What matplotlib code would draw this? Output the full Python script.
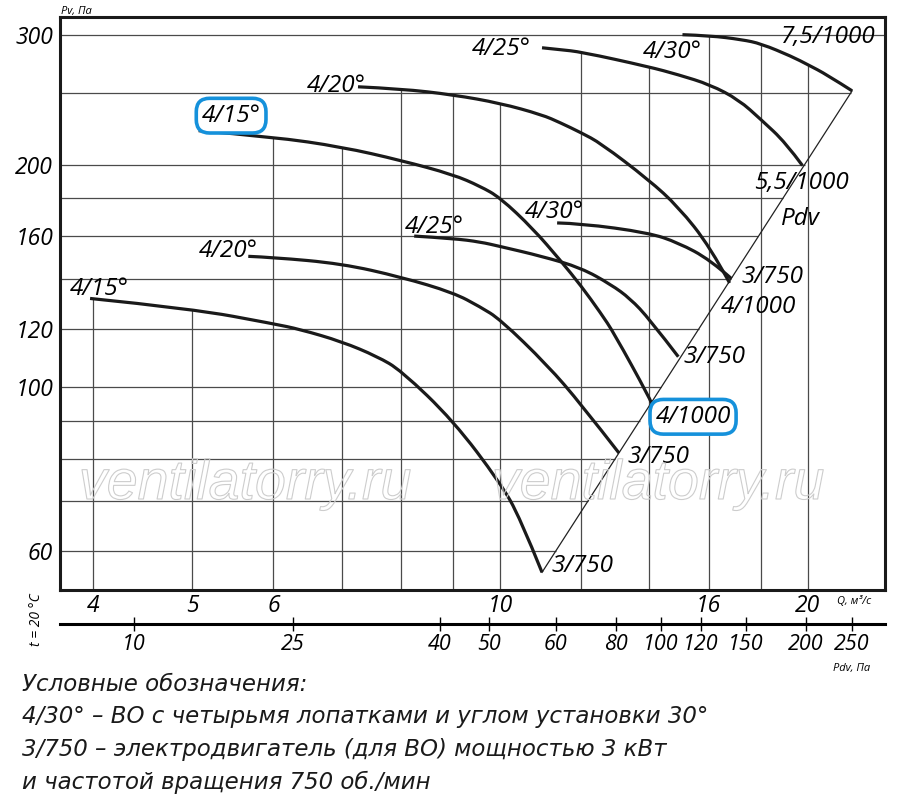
import numpy as np
import matplotlib
matplotlib.use('Agg')
import matplotlib.pyplot as plt
from matplotlib import patheffects
from matplotlib.path import Path
from matplotlib.patches import PathPatch
from matplotlib.ticker import NullLocator

plt.rcParams['font.family'] = ['Open Sans', 'DejaVu Sans']

# Q, m3/s  vs  Pv, Pa
# lower family, motor 3/750
q_15_750 = [3.97, 5.0, 6.0, 6.37, 7.0, 7.58, 8.0, 9.0, 10.0, 10.46, 10.99]
p_15_750 = [131.8, 127.6, 121.8, 119.7, 115.2, 110.0, 105.3, 90.0, 74.2, 66.5, 56.1]
q_20_750 = [5.67, 6.0, 7.0, 8.0, 9.0, 9.56, 10.0, 11.12, 12.0, 13.07]
p_20_750 = [150.3, 149.8, 146.9, 140.9, 134.2, 128.4, 123.5, 107.1, 94.8, 81.4]
q_25_750 = [8.24, 9.0, 9.56, 10.0, 10.99, 12.0, 12.84, 13.40, 14.0, 14.94]
p_25_750 = [160.1, 158.9, 157.2, 155.0, 150.3, 145.0, 137.6, 131.8, 123.6, 109.9]
q_30_750 = [11.37, 12.0, 13.97, 14.94, 16.05, 16.84]
p_30_750 = [166.8, 166.5, 161.8, 156.8, 148.7, 140.2]
# upper family
q_15_1000 = [5.07, 6.0, 7.0, 8.0, 9.0, 9.56, 10.0, 10.77, 11.45, 12.0, 12.54, 12.92, 14.0, 14.06]
p_15_1000 = [222.4, 218.1, 211.4, 202.7, 193.9, 187.0, 180.5, 163.8, 148.5, 137.1, 126.0, 118.4, 96.7, 95.2]
q_20_1000 = [7.26, 8.0, 9.0, 10.0, 10.99, 11.45, 12.0, 12.54, 13.97, 14.94, 16.05, 16.77]
p_20_1000 = [255.0, 253.4, 248.7, 242.3, 233.7, 228.0, 221.0, 213.9, 190.9, 175.4, 154.8, 138.3]
q_25_5500 = [10.99, 11.45, 12.0, 13.97, 14.94, 16.05, 17.12, 18.0, 19.03, 19.76]
p_25_5500 = [288.0, 286.3, 284.3, 271.5, 264.8, 256.7, 244.9, 230.2, 214.2, 199.5]
q_30_7500 = [15.08, 16.05, 17.24, 18.0, 19.30, 20.0, 20.87, 22.1]
p_30_7500 = [300.0, 299.1, 295.4, 291.7, 280.2, 273.2, 264.9, 251.8]

# dynamic pressure line
q_pdv = [10.99, 22.1]
p_pdv = [56.1, 251.8]

grid_q = [4, 5, 6, 7, 8, 9, 10, 12, 14, 16, 18, 20]
grid_p = [60, 70, 80, 90, 100, 120, 140, 160, 180, 200, 250, 300]
q_ticks = [4, 5, 6, 10, 16, 20]
p_ticks = [60, 100, 120, 160, 200, 300]
pdv_labels = ['10', '25', '40', '50', '60', '80', '100', '120', '150', '200', '250']
pdv_tick_q = [4.38, 6.27, 8.73, 9.75, 11.34, 12.98, 14.37, 15.72, 17.39, 19.91, 22.08]

Q_MIN, Q_MAX = 3.71, 23.8
P_MIN, P_MAX = 53.1, 317

BLUE = '#1591db'
INK = '#1a1a1a'
LBL = 17.5

# curve, start label, start offset(px), end label, end offset(px), boxed start, boxed end
curves = [
    (q_15_750, p_15_750, '4/15°', (-20, 3), '3/750', (9, 0), False, False),
    (q_20_750, p_20_750, '4/20°', (-49, -1), '3/750', (9, -10), False, False),
    (q_25_750, p_25_750, '4/25°', (-9, 3), '3/750', (5, -6), False, False),
    (q_30_750, p_30_750, '4/30°', (-32, 5), '3/750', (10, -4), False, False),
    (q_15_1000, p_15_1000, '4/15°', (3, 9), '4/1000', (4, -20), True, True),
    (q_20_1000, p_20_1000, '4/20°', (-51, -5), '4/1000', (-9, -30), False, False),
    (q_25_5500, p_25_5500, '4/25°', (-70, -7), '5,5/1000', (-48, -23), False, False),
    (q_30_7500, p_30_7500, '4/30°', (-40, -23), '7,5/1000', (-71, 48), False, False),
]


def smooth_path(q, p):
    # quadratic pieces through the log-space midpoints, so the curve has no corners
    lq, lp = np.log(q), np.log(p)
    verts = [(q[0], p[0])]
    codes = [Path.MOVETO]
    for i in range(1, len(q) - 1):
        mid = (np.exp((lq[i] + lq[i + 1]) / 2), np.exp((lp[i] + lp[i + 1]) / 2))
        verts += [(q[i], p[i]), mid]
        codes += [Path.CURVE3, Path.CURVE3]
    verts[-1] = (q[-1], p[-1])
    return Path(verts, codes)


def top_of(q):
    tops = [np.exp(np.interp(np.log(q), np.log(cq), np.log(cp)))
            for cq, cp, *_ in curves if cq[0] <= q <= cq[-1]]
    return max(tops)


def pdv_at(p):
    if p > p_pdv[-1]:
        return Q_MAX
    return np.exp(np.interp(np.log(p), np.log(p_pdv), np.log(q_pdv)))


fig = plt.figure(figsize=(9, 8.07), dpi=100)
ax = fig.add_axes([60 / 900, 1 - 590 / 807, 825 / 900, 573 / 807])
ax.set_xscale('log')
ax.set_yscale('log')
ax.set_xlim(Q_MIN, Q_MAX)
ax.set_ylim(P_MIN, P_MAX)

# grid only under the curves and left of the Pdv line
for q in grid_q:
    ax.vlines(q, P_MIN, top_of(q), color='#4a4a4a', lw=0.9, zorder=1)
for p in grid_p:
    ax.hlines(p, Q_MIN, pdv_at(p), color='#4a4a4a', lw=0.9, zorder=1)

ax.plot(q_pdv, p_pdv, color='#222222', lw=0.9, zorder=2)

box = dict(boxstyle='round,pad=0.22,rounding_size=0.55', fc='white', ec=BLUE, lw=2.6)
for cq, cp, s_lab, s_off, e_lab, e_off, s_box, e_box in curves:
    ax.add_patch(PathPatch(smooth_path(cq, cp), fill=False, ec=INK, lw=2.3,
                           capstyle='butt', joinstyle='round', zorder=3))
    ax.annotate(s_lab, (cq[0], cp[0]), xytext=s_off, textcoords='offset pixels',
                fontsize=LBL, style='italic', ha='left', va='baseline',
                bbox=box if s_box else None, zorder=4)
    ax.annotate(e_lab, (cq[-1], cp[-1]), xytext=e_off, textcoords='offset pixels',
                fontsize=LBL, style='italic', ha='left', va='baseline',
                bbox=box if e_box else None, zorder=4)

ax.annotate('Pdv', (q_pdv[-1], p_pdv[-1]), xytext=(-71, -134), textcoords='offset pixels',
            fontsize=LBL, style='italic', ha='left', va='baseline')

for side in ['left', 'right', 'top', 'bottom']:
    ax.spines[side].set_linewidth(2.2)
    ax.spines[side].set_color(INK)

ax.xaxis.set_minor_locator(NullLocator())
ax.yaxis.set_minor_locator(NullLocator())
ax.set_xticks(q_ticks, [str(v) for v in q_ticks], fontsize=16.5, fontstyle='italic')
ax.set_yticks(p_ticks, [str(v) for v in p_ticks], fontsize=16.5, fontstyle='italic')
ax.tick_params(axis='both', length=0)
ax.tick_params(axis='x', pad=3)
ax.tick_params(axis='y', pad=5)

# Pdv scale under the Q axis
axd = fig.add_axes([60 / 900, 1 - 624 / 807, 825 / 900, 0.0001])
axd.set_xscale('log')
axd.set_xlim(Q_MIN, Q_MAX)
axd.xaxis.set_minor_locator(NullLocator())
axd.set_xticks(pdv_tick_q, pdv_labels, fontsize=15.5, fontstyle='italic')
axd.tick_params(axis='x', direction='inout', length=10, width=1, pad=2)
axd.set_yticks([])
for side in ['left', 'right', 'top']:
    axd.spines[side].set_visible(False)
axd.spines['bottom'].set_linewidth(2.2)
axd.patch.set_alpha(0)

fig.text(61 / 900, 1 - 14 / 807, 'Pv, Па', fontsize=8, style='italic', va='baseline')
fig.text(854 / 900, 1 - 602 / 807, 'Q, м³/с', fontsize=8, style='italic', ha='center', va='center')
fig.text(852 / 900, 1 - 669 / 807, 'Pdv, Па', fontsize=8, style='italic', ha='center', va='center')
fig.text(37 / 900, 1 - 620 / 807, 't = 20 °C', fontsize=10, style='italic', rotation=90,
         ha='center', va='center')

# watermark
for x in [245, 658]:
    fig.text(x / 900, 1 - 485 / 807, 'ventilatorry.ru', fontsize=40, style='italic',
             family='Liberation Sans', color='none', ha='center', va='center',
             path_effects=[patheffects.Stroke(linewidth=0.8, foreground='#cdcdcd')])

legend_lines = [
    'Условные обозначения:',
    '4/30° – ВО с четырьмя лопатками и углом установки 30°',
    '3/750 – электродвигатель (для ВО) мощностью 3 кВт',
    'и частотой вращения 750 об./мин',
]
for i, line in enumerate(legend_lines):
    fig.text(22 / 900, 1 - (691 + 32.5 * i) / 807, line, fontsize=16.5, style='italic',
             family='DejaVu Sans', va='baseline', color=INK)

fig.savefig('out.png', dpi=100)
